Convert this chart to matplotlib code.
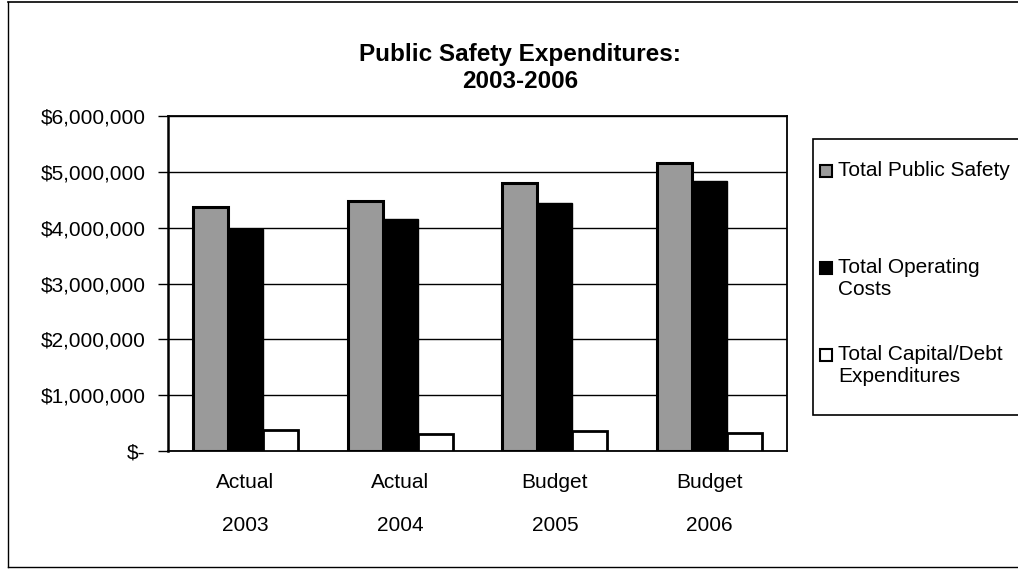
import matplotlib
matplotlib.use("Agg")
import matplotlib.pyplot as plt
from matplotlib.patches import Rectangle
from matplotlib.lines import Line2D
from matplotlib.ticker import FuncFormatter

plt.rcParams['font.family'] = ['Liberation Sans', 'DejaVu Sans']

categories = ["Actual\n2003", "Actual\n2004", "Budget\n2005", "Budget\n2006"]
series_names = ["Total Public Safety", "Total Operating\nCosts", "Total Capital/Debt\nExpenditures"]
total_public_safety = [4370000, 4480000, 4800000, 5150000]
total_operating = [3980000, 4160000, 4450000, 4830000]
total_capital_debt = [380000, 310000, 350000, 320000]
yticks = [0, 1000000, 2000000, 3000000, 4000000, 5000000, 6000000]

W, H = 1018, 570
fig = plt.figure(figsize=(W / 100, H / 100), dpi=100)
fig.patch.set_facecolor('white')

# outer frame
fig.add_artist(Line2D([8 / W, 8 / W], [1 - 567 / H, 1 - 2 / H], color='black', lw=1, transform=fig.transFigure))
fig.add_artist(Line2D([8 / W, 1.0], [1 - 2 / H, 1 - 2 / H], color='black', lw=1.2, transform=fig.transFigure))
fig.add_artist(Line2D([8 / W, 1.0], [1 - 567 / H, 1 - 567 / H], color='black', lw=1, transform=fig.transFigure))

left, right, top, bottom = 168, 787, 116, 451
ax = fig.add_axes([left / W, 1 - bottom / H, (right - left) / W, (bottom - top) / H])

w = 0.226
styles = [
    dict(facecolor='#9a9a9a', edgecolor='black', linewidth=2.2),
    dict(facecolor='black', edgecolor='black', linewidth=1),
    dict(facecolor='white', edgecolor='black', linewidth=2),
]
data = [total_public_safety, total_operating, total_capital_debt]
xs = list(range(len(categories)))
for k, (vals, st) in enumerate(zip(data, styles)):
    ax.bar([x + (k - 1) * w for x in xs], vals, width=w, zorder=3, **st)

ax.set_xlim(-0.5, 3.5)
ax.set_ylim(0, 6000000)
ax.set_yticks(yticks)
ax.yaxis.set_major_formatter(FuncFormatter(lambda v, p: "$-" if v == 0 else "${:,.0f}".format(v)))
ax.grid(axis='y', color='black', lw=1, zorder=0)
ax.tick_params(axis='y', direction='out', length=7, width=1, pad=9, labelsize=15)
ax.set_xticks(xs)
ax.set_xticklabels(categories, fontsize=15, linespacing=2.6)
ax.tick_params(axis='x', length=0, pad=16)
for s in ax.spines.values():
    s.set_color('black')
    s.set_linewidth(1.3)
ax.spines['left'].set_linewidth(1.8)

# title
fig.text(520 / W, 1 - 55 / H, "Public Safety Expenditures:", ha='center', va='center',
         fontsize=17.5, fontweight='bold')
fig.text(520 / W, 1 - 81 / H, "2003-2006", ha='center', va='center',
         fontsize=17.5, fontweight='bold')

# legend box
fig.add_artist(Rectangle((813 / W, 1 - 415 / H), (W + 10 - 813) / W, (415 - 139) / H,
                         transform=fig.transFigure, facecolor='white', edgecolor='black',
                         lw=1.2, clip_on=False))
legend_y = [171, 268, 355]
sw_face = ['#9a9a9a', 'black', 'white']
for name, yy, fc in zip(series_names, legend_y, sw_face):
    fig.add_artist(Rectangle((820 / W, 1 - (yy + 6) / H), 12 / W, 12 / H,
                             transform=fig.transFigure, facecolor=fc, edgecolor='black', lw=1.5))
    fig.text(838 / W, 1 - (yy - 10) / H, name, ha='left', va='top', fontsize=15, linespacing=1.2)

fig.savefig("out.png", dpi=100, facecolor='white')
